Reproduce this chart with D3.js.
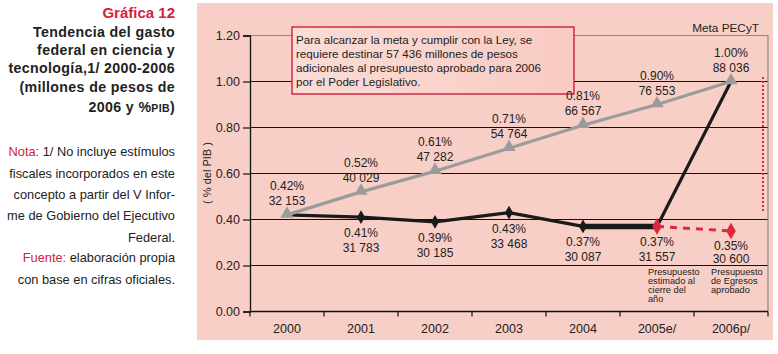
<!DOCTYPE html>
<html><head><meta charset="utf-8">
<script src="https://cdn.jsdelivr.net/npm/d3@7"></script>
<style>
body{margin:0;background:#fff;}
svg{display:block;font-family:"Liberation Sans",Arial,Helvetica,sans-serif;}
</style></head>
<body>
<svg id="c" width="778" height="354"></svg>
<script>
const years = ["2000","2001","2002","2003","2004","2005e/","2006p/"];
const metaPct = [0.42,0.52,0.61,0.71,0.81,0.90,1.00];
const metaMdp = ["32 153","40 029","47 282","54 764","66 567","76 553","88 036"];
const realYears = ["2000","2001","2002","2003","2004","2005e/"];
const realPct = [0.42,0.41,0.39,0.43,0.37,0.37];
const realMdp = [null,"31 783","30 185","33 468","30 087","31 557"];
const realLblPct = [null,"0.41%","0.39%","0.43%","0.37%","0.37%"];
const projYears = ["2005e/","2006p/"];
const projPct = [0.37,0.35];
const projLbl = ["0.35%"];
const projMdp = ["30 600"];
const yTicks = [0,0.2,0.4,0.6,0.8,1.0,1.2];

const svg = d3.select("#c");
// panel
svg.append("rect").attr("x",197).attr("y",3).attr("width",576).attr("height",337).attr("fill","#f8cfc6");

// left text
const lt = svg.append("g").attr("text-anchor","end");
lt.append("text").attr("x",175).attr("y",18).attr("fill","#d4213d").attr("font-weight","bold").attr("font-size",15).text("Gráfica 12");
const tl = ["Tendencia del gasto","federal en ciencia y","tecnología,1/ 2000-2006","(millones de pesos de"];
const ty = [37,55,73,92];
tl.forEach((t,i)=>lt.append("text").attr("x",175).attr("y",ty[i]).attr("font-weight","bold").attr("font-size",14.2).attr("letter-spacing",0.35).attr("fill","#222").text(t));
const last = lt.append("text").attr("x",175).attr("y",112).attr("font-weight","bold").attr("font-size",14.2).attr("letter-spacing",0.35).attr("fill","#222");
last.append("tspan").text("2006 y %");
last.append("tspan").attr("font-size",10.5).text("PIB");
last.append("tspan").text(")");
const notes = [
 [["Nota: ","#d4213d"],["1/ No incluye estímulos","#222"]],
 [["fiscales incorporados en este","#222"]],
 [["concepto a partir del V Infor-","#222"]],
 [["me de Gobierno del Ejecutivo","#222"]],
 [["Federal.","#222"]],
 [["Fuente: ","#d4213d"],["elaboración propia","#222"]],
 [["con base en cifras oficiales.","#222"]]
];
const ny = [156,178,199,220,242,262,284];
notes.forEach((parts,i)=>{
  const t = lt.append("text").attr("x",175).attr("y",ny[i]).attr("font-size",12.8);
  parts.forEach(p=>t.append("tspan").attr("fill",p[1]).text(p[0]));
});

const x = d3.scaleBand().domain(years).range([250,768]).padding(0);
const y = d3.scaleLinear().domain([0,1.2]).range([311.5,35.5]);
const cx = d => x(d)+x.bandwidth()/2;

// gridlines
svg.append("g").selectAll("line").data(yTicks.filter(v=>v>0 && v<1.2)).join("line")
  .attr("x1",250).attr("x2",768).attr("y1",d=>y(d)).attr("y2",d=>y(d))
  .attr("stroke","#111").attr("stroke-width",1);
// frame (gray)
svg.append("path").attr("d",`M250,${y(1.2)}H768V${y(0)}`).attr("fill","none").attr("stroke","#8a8a8a").attr("stroke-width",1.2);

// y axis
const ya = svg.append("g").attr("transform","translate(250,0)")
  .call(d3.axisLeft(y).tickValues(yTicks).tickFormat(d3.format(".2f")).tickSize(7).tickPadding(3));
ya.select(".domain").attr("stroke","#111").attr("stroke-width",1.3);
ya.selectAll(".tick line").attr("stroke","#111").attr("stroke-width",1.2);
ya.selectAll(".tick text").attr("font-size",12.5).attr("fill","#222").attr("font-family","Liberation Sans, Arial, sans-serif");
svg.append("text").attr("transform",`translate(211,173) rotate(-90)`).attr("text-anchor","middle")
  .attr("font-size",11).attr("fill","#222").text("( % del PIB )");

// x axis
const xa = svg.append("g").attr("transform",`translate(0,${y(0)})`)
  .call(d3.axisBottom(x).tickSize(0).tickPadding(13));
xa.select(".domain").remove();
xa.selectAll(".tick text").attr("font-size",12.5).attr("fill","#222").attr("font-family","Liberation Sans, Arial, sans-serif");
svg.append("line").attr("x1",250).attr("x2",768).attr("y1",y(0)).attr("y2",y(0)).attr("stroke","#111").attr("stroke-width",1.3);
const bounds = years.map(d=>x(d)).concat([x.range()[1]]);
svg.append("g").selectAll("line").data(bounds).join("line")
  .attr("x1",d=>d).attr("x2",d=>d).attr("y1",y(0)).attr("y2",y(0)+5).attr("stroke","#111").attr("stroke-width",1.2);

// annotation box
const defs = svg.append("defs");
const gr = defs.append("linearGradient").attr("id","bx").attr("x1","0").attr("x2","1");
gr.append("stop").attr("offset","0").attr("stop-color","#fbdcd6");
gr.append("stop").attr("offset","1").attr("stop-color","#f8cbc3");
svg.append("rect").attr("x",292).attr("y",27).attr("width",282).attr("height",67)
  .attr("fill","url(#bx)").attr("stroke","#cf1f38").attr("stroke-width",1.4);
const bl = ["Para alcanzar la meta y cumplir con la Ley, se","requiere destinar 57 436 millones de pesos","adicionales al presupuesto aprobado para 2006","por el Poder Legislativo."];
bl.forEach((t,i)=>svg.append("text").attr("x",296).attr("y",44+i*14).attr("font-size",11.6).attr("fill","#222").text(t));

svg.append("text").attr("x",759).attr("y",32).attr("text-anchor","end").attr("font-size",11.8).attr("fill","#222").text("Meta PECyT");

// red dotted vertical
svg.append("line").attr("x1",763).attr("x2",763).attr("y1",y(1.02)).attr("y2",y(0.43))
  .attr("stroke","#e0283c").attr("stroke-width",2).attr("stroke-dasharray","2,2");

// black line
const line = d3.line().x(d=>cx(d[0])).y(d=>y(d[1]));
const realPts = realYears.map((d,i)=>[d,realPct[i]]);
svg.append("path").attr("d",line(realPts.slice(0,5))).attr("fill","none").attr("stroke","#1a1a1a").attr("stroke-width",3.2).attr("stroke-linejoin","round");
svg.append("path").attr("d",line(realPts.slice(4,6))).attr("fill","none").attr("stroke","#1a1a1a").attr("stroke-width",5.5);
svg.append("path").attr("d",line([realPts[5],["2006p/",metaPct[6]]])).attr("fill","none").attr("stroke","#1a1a1a").attr("stroke-width",3.2);
// red dashed
const projPts = projYears.map((d,i)=>[d,projPct[i]]);
svg.append("path").attr("d",line(projPts)).attr("fill","none").attr("stroke","#e0283c").attr("stroke-width",3).attr("stroke-dasharray","7,6");
// black diamonds
const dia = d3.symbol().type(d3.symbolDiamond);
svg.append("g").selectAll("path").data(realPts.slice(1,5)).join("path")
  .attr("d",dia.size(55)()).attr("transform",d=>`translate(${cx(d[0])},${y(d[1])})`).attr("fill","#1a1a1a");
svg.append("g").selectAll("path").data(projPts).join("path")
  .attr("d",dia.size(80)()).attr("transform",d=>`translate(${cx(d[0])},${y(d[1])})`).attr("fill","#e0283c");

// gray line
const metaPts = years.map((d,i)=>[d,metaPct[i]]);
svg.append("path").attr("d",line(metaPts)).attr("fill","none").attr("stroke","#9b9b9b").attr("stroke-width",3.2);
svg.append("g").selectAll("path").data(metaPts).join("path")
  .attr("d",d3.symbol().type(d3.symbolTriangle).size(75)()).attr("transform",d=>`translate(${cx(d[0])},${y(d[1])-1})`).attr("fill","#9b9b9b");

// labels
const lg = svg.append("g").attr("text-anchor","middle").attr("font-size",12).attr("fill","#222");
metaPts.forEach((d,i)=>{
  lg.append("text").attr("x",cx(d[0])).attr("y",y(d[1])-25).text(d3.format(".2f")(d[1])+"%");
  lg.append("text").attr("x",cx(d[0])).attr("y",y(d[1])-10).text(metaMdp[i]);
});
realPts.forEach((d,i)=>{
  if(!realMdp[i]) return;
  lg.append("text").attr("x",cx(d[0])).attr("y",y(d[1])+20).text(realLblPct[i]);
  lg.append("text").attr("x",cx(d[0])).attr("y",y(d[1])+35).text(realMdp[i]);
});
lg.append("text").attr("x",cx("2006p/")).attr("y",y(projPct[1])+19).text(projLbl[0]);
lg.append("text").attr("x",cx("2006p/")).attr("y",y(projPct[1])+32).text(projMdp[0]);

// small notes
const sn1 = ["Presupuesto","estimado al","cierre del","año"];
sn1.forEach((t,i)=>svg.append("text").attr("x",648).attr("y",275+i*9).attr("font-size",9.2).attr("fill","#222").text(t));
const sn2 = ["Presupuesto","de Egresos","aprobado"];
sn2.forEach((t,i)=>svg.append("text").attr("x",711).attr("y",275+i*9).attr("font-size",9.2).attr("fill","#222").text(t));
</script>
</body></html>
